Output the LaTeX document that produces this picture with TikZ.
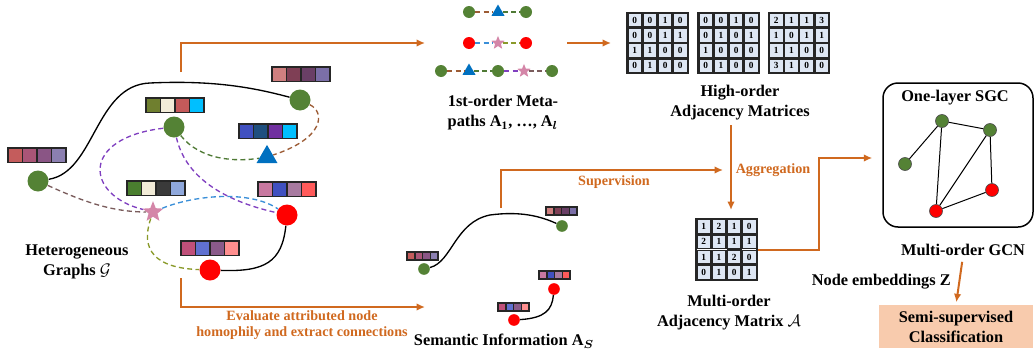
\documentclass[tikz,border=0pt]{standalone}
\usepackage{amsmath}
\usepackage{fontspec}
\setmainfont{Liberation Serif}
\usetikzlibrary{arrows.meta,shapes.geometric,matrix}

\definecolor{ogreen}{HTML}{548235}
\definecolor{ored}{HTML}{FF0000}
\definecolor{oblue}{HTML}{0070C0}
\definecolor{opink}{HTML}{D486A8}
\definecolor{flow}{HTML}{D0691F}
\definecolor{cellblue}{HTML}{DEE7F4}
\definecolor{peach}{HTML}{F8CBAD}
\definecolor{ebrown}{HTML}{9C5B34}
\definecolor{edkgreen}{HTML}{4F7A35}
\definecolor{epurple}{HTML}{8040C0}
\definecolor{egray}{HTML}{7A5C5C}
\definecolor{eblue}{HTML}{3A8FD8}
\definecolor{eolive}{HTML}{8A9A2A}

\tikzset{
    gnode/.style={circle,fill=ogreen,inner sep=0pt,minimum size=12.6pt},
    rnode/.style={circle,fill=ored,inner sep=0pt,minimum size=12.6pt},
    tnode/.style={regular polygon,regular polygon sides=3,fill=oblue,inner sep=0pt,minimum size=14.5pt},
    snode/.style={star,star points=5,star point ratio=2.3,fill=opink,inner sep=0pt,minimum size=13pt},
    mini/.style={minimum size=7.2pt},
    minitri/.style={minimum size=9pt},
    ministar/.style={minimum size=8.5pt},
    dnode/.style={circle,draw=black!70,line width=0.4pt,inner sep=0pt,minimum size=7.8pt},
    dedge/.style={dash pattern=on 3pt off 2pt,line width=0.8pt},
    flowarrow/.style={draw=flow,line width=1.2pt,-{Latex[length=5pt,width=4.5pt]}},
    lbl/.style={font=\fontsize{9.8}{12}\selectfont\bfseries,align=center,inner sep=0pt},
    olbl/.style={font=\fontsize{8.5}{9.8}\selectfont\bfseries,text=flow,align=center,inner sep=0pt},
    cellbox/.style={draw=black!85,line width=0.8pt,fill=cellblue,minimum size=8.3pt,inner sep=0pt,outer sep=0pt,
        font=\fontsize{5.6}{6}\selectfont\bfseries},
    adjmat/.style={matrix of nodes,draw=black!85,line width=1.3pt,inner sep=0pt,
        column sep=0pt,row sep=0pt,nodes={cellbox}}
}

\newcommand{\featbar}[4]{%
    \foreach \fc [count=\bi from 0] in {#4}{%
        \edef\barcdef{\noexpand\definecolor{barc}{HTML}{\fc}}\barcdef
        \draw[line width=0.9pt,draw=black!85,fill=barc] ({#1+\bi*#3},#2) rectangle ++(#3,#3);
    }%
}

\begin{document}
\begin{tikzpicture}[x=0.6pt,y=-0.6pt]
        \useasboundingbox (0,0) rectangle (1034,354);
        \node[gnode] (gA) at (38,181) {};
        \node[gnode] (gB) at (174,127) {};
        \node[gnode] (gC) at (300,100) {};
        \node[tnode] (gD) at (267,157) {};
        \node[snode] (gE) at (153,212) {};
        \node[rnode] (gF) at (287,215) {};
        \node[rnode] (gG) at (210,270) {};
        \draw[line width=0.8pt] (gA) .. controls (95,172) and (95,85) .. (150,83) .. controls (215,80) and (255,88) .. (gC);
        \draw[line width=0.8pt] (gF) .. controls (282,262) and (265,272) .. (gG);
        \draw[dedge,ebrown] (gC) .. controls (325,112) and (325,138) .. (gD);
        \draw[dedge,edkgreen] (gB) .. controls (200,160) and (235,162) .. (gD);
        \draw[dedge,epurple] (gB) .. controls (80,138) and (85,195) .. (gE);
        \draw[dedge,epurple] (gB) .. controls (185,175) and (220,200) .. (gF);
        \draw[dedge,egray] (gA) .. controls (80,200) and (110,212) .. (gE);
        \draw[dedge,eblue] (gE) .. controls (195,195) and (250,190) .. (gF);
        \draw[dedge,eolive] (gE) .. controls (140,250) and (155,268) .. (gG);
        \featbar{8}{148}{14.5}{C45C5C,AA5577,8A5585,8B7FB0}
        \featbar{146}{98}{14.5}{6F7F2F,F2ECD8,C55A5A,00BFFF}
        \featbar{272}{67}{14.5}{D08080,7F3F55,6A3F66,7B6FA8}
        \featbar{239}{124}{14.5}{4050C0,1F4F7F,7030A0,00BFFF}
        \featbar{127}{181}{14.5}{4A7F2F,F2ECD8,3A3A3A,8FA8DC}
        \featbar{258}{182}{14.5}{C878A0,4050C0,A87AA0,FF5A5A}
        \featbar{181}{241}{14.5}{C0507A,6070D0,8A5A8A,FF8F8F}
        \node[lbl] (hgL) at (77,262) {Heterogeneous\\Graphs $\mathcal{G}$};

        \node[gnode,mini] (m11) at (469,12) {};
        \node[tnode,minitri] (m12) at (498,12) {};
        \node[gnode,mini] (m13) at (526,12) {};
        \node[rnode,mini] (m21) at (469,43) {};
        \node[snode,ministar] (m22) at (498,43) {};
        \node[rnode,mini] (m23) at (526,43) {};
        \node[gnode,mini] (m31) at (441,71) {};
        \node[tnode,minitri] (m32) at (469,71) {};
        \node[gnode,mini] (m33) at (498,71) {};
        \node[snode,ministar] (m34) at (524,71) {};
        \node[gnode,mini] (m35) at (552,71) {};
        \draw[dedge,ebrown] (m11) -- (m12);
        \draw[dedge,edkgreen] (m12) -- (m13);
        \draw[dedge,eblue] (m21) -- (m22);
        \draw[dedge,eolive] (m22) -- (m23);
        \draw[dedge,ebrown] (m31) -- (m32);
        \draw[dedge,edkgreen] (m32) -- (m33);
        \draw[dedge,epurple] (m33) -- (m34);
        \draw[dedge,egray] (m34) -- (m35);
        \node[lbl] (mpL) at (503,113) {1st-order Meta-\\paths $\mathbf{A}_{\mathbf{1}}$, …, $\mathbf{A}_{\boldsymbol{l}}$};

        \matrix[adjmat] (mA) at (657.5,43) {0 & 0 & 1 & 0\\ 0 & 0 & 1 & 1\\ 1 & 1 & 0 & 0\\ 0 & 1 & 0 & 0\\};
        \matrix[adjmat] (mB) at (728.5,43) {0 & 0 & 1 & 0\\ 0 & 1 & 0 & 1\\ 1 & 0 & 0 & 0\\ 0 & 1 & 0 & 0\\};
        \matrix[adjmat] (mC) at (799,43) {2 & 1 & 1 & 3\\ 1 & 0 & 1 & 1\\ 1 & 1 & 0 & 0\\ 3 & 1 & 0 & 0\\};
        \node[lbl] (hmL) at (740,103) {High-order\\Adjacency Matrices};
        \matrix[adjmat] (mM) at (726.5,249.5) {1 & 2 & 1 & 0\\ 2 & 1 & 1 & 1\\ 1 & 1 & 2 & 0\\ 0 & 1 & 0 & 1\\};
        \node[lbl] (amL) at (729,313) {Multi-order\\Adjacency Matrix $\mathcal{A}$};

        \node[gnode,minimum size=7pt] (sA) at (424,269) {};
        \node[gnode,minimum size=7pt] (sC) at (562,226) {};
        \node[rnode,minimum size=7pt] (sF) at (554,289) {};
        \node[rnode,minimum size=7pt] (sG) at (514,320) {};
        \draw[line width=0.8pt] (sA) .. controls (452,262) and (455,222) .. (490,215) .. controls (520,211) and (540,216) .. (sC);
        \draw[line width=0.8pt] (sG) .. controls (545,318) and (552,310) .. (sF);
        \featbar{407}{252}{7.8}{C45C5C,AA5577,8A5585,8B7FB0}
        \featbar{546}{207}{7.8}{D08080,7F3F55,6A3F66,7B6FA8}
        \featbar{539}{271}{7.8}{C878A0,4050C0,A87AA0,FF5A5A}
        \featbar{498}{303}{7.8}{C0507A,6070D0,8A5A8A,FF8F8F}
        \node[lbl] (siL) at (504,341) {Semantic Information $\mathbf{A}_{\boldsymbol{S}}$};

        \node[draw,line width=0.9pt,rounded corners=9pt,minimum width=90pt,minimum height=86.4pt] (sgc) at (958,155) {};
        \node[lbl] (sgcL) at (955,98) {One-layer SGC};
        \node[dnode,fill=ogreen] (d1) at (942,121) {};
        \node[dnode,fill=ogreen] (d2) at (990,130) {};
        \node[dnode,fill=ogreen] (d3) at (905,164) {};
        \node[dnode,fill=ored] (d4) at (992,190) {};
        \node[dnode,fill=ored] (d5) at (936,211) {};
        \draw[line width=0.6pt] (d1) -- (d3) (d1) -- (d2) (d1) -- (d5) (d2) -- (d5) (d2) -- (d4) (d4) -- (d5);
        \node[lbl] (gcnL) at (963,250) {Multi-order GCN};
        \node[lbl,anchor=east] (nzL) at (951,282) {Node embeddings Z};
        \node[lbl,fill=peach,minimum width=92.4pt,minimum height=25.8pt] (cls) at (956,326.5) {Semi-supervised\\Classification};

        \coordinate (hgT) at (181,72);
        \coordinate (hgB) at (181,278);
        \coordinate (mpIn) at (425,43);
        \coordinate (siIn) at (425,307);
        \coordinate (mpOut) at (567,43);
        \coordinate (hmIn) at (611,43);
        \coordinate (agTop) at (731,125);
        \coordinate (agEnd) at (731,210);
        \coordinate (supStart) at (501,208);
        \coordinate (supEnd) at (723,170);
        \draw[flowarrow] (hgT) |- (mpIn);
        \draw[flowarrow] (hgB) |- (siIn);
        \draw[flowarrow] (mpOut) -- (hmIn);
        \draw[flowarrow] (agTop) -- (agEnd);
        \draw[flowarrow] (supStart) |- (supEnd);
        \draw[flowarrow,shorten >=6pt] (mM.east) -- ++(61,0) |- ([yshift=-1.8pt]sgc.west);
        \draw[flowarrow,shorten <=3.5pt,shorten >=1.5pt] (gcnL.south) -- (cls.north);
        \node[olbl] (evL) at (302,325) {Evaluate attributed node\\homophily and extract connections};
        \node[olbl] (supL) at (614,182) {Supervision};
        \node[olbl] (agL) at (773,170) {Aggregation};
    \end{tikzpicture}
\end{document}
